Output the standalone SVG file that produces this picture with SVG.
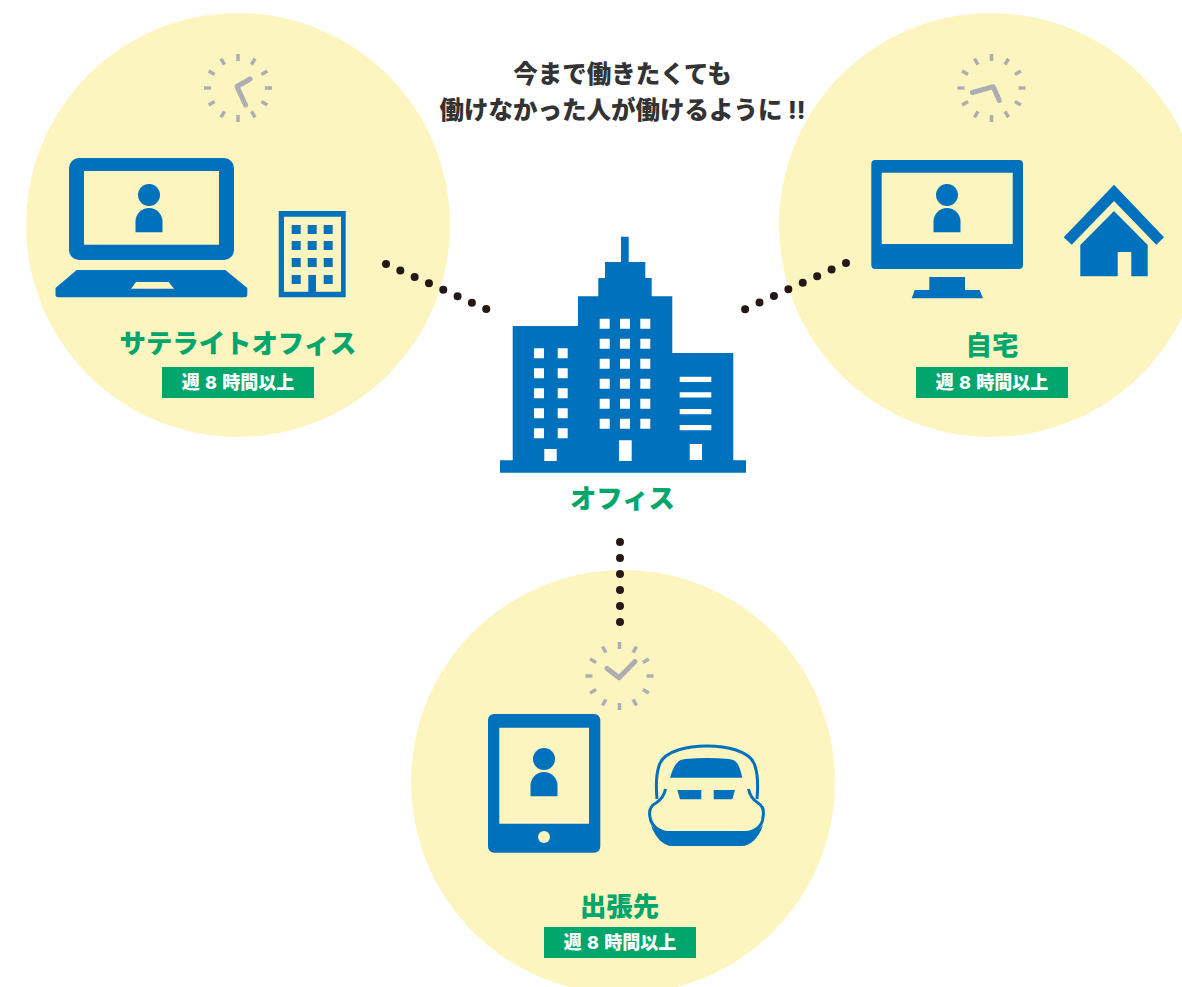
<svg xmlns="http://www.w3.org/2000/svg" width="1182" height="987" viewBox="0 0 1182 987">
<style>
.bg{fill:#fdf5bf}
.b{fill:#0071bc}
.c{fill:#fdf5bf}
.tick{stroke:#aeaeb2;stroke-width:3.500;fill:none}
.hand{stroke:#aeaeb2;stroke-width:5;fill:none;stroke-linecap:round;stroke-linejoin:round}
.dots{stroke:#231815;stroke-width:8;stroke-linecap:round;fill:none}
text{font-family:"Noto Sans CJK JP","Noto Sans",sans-serif;font-weight:900;text-anchor:middle}
.title{font-size:24.500px;fill:#333}
.label{font-size:26.400px;fill:#00a66c}
.badge{fill:#00a66c}
.bt{font-size:18px;fill:#fff;word-spacing:1.200px}
.lat{font-family:Inter,"Noto Sans",sans-serif;font-weight:800}
</style>
<defs>
<g id="ticks" class="tick">
<path d="M0-34V-27M0 34V27M34 0H27M-34 0H-27M17-29.400L13.500-23.400M-17-29.400L-13.500-23.400M17 29.400L13.500 23.400M-17 29.400L-13.500 23.400M29.400-17L23.400-13.500M-29.400-17L-23.400-13.500M29.400 17L23.400 13.500M-29.400 17L-23.400 13.500"/>
</g>
<g id="person" class="b">
<circle cx="0" cy="0" r="11"/>
<path d="M-13.500 37.300V26.500a13.500 13.500 0 0 1 27 0V37.300Z"/>
</g>
</defs>
<rect width="1182" height="987" fill="#fff"/>
<g id="satellite">
<circle class="bg" cx="238" cy="225" r="212"/>
<use href="#ticks" x="238" y="88"/>
<path class="hand" d="M250 79L237 86.500L245.500 105"/>
<rect class="b" x="69" y="158" width="165" height="102" rx="10"/>
<rect class="c" x="84" y="171" width="135" height="73.700"/>
<use href="#person" x="149" y="195"/>
<path class="b" d="M76.700 270H225.300L247.300 288V294a3 3 0 0 1-3 3.300H58.500a3 3 0 0 1-3-3.300V288Z"/>
<path class="c" d="M136 282H168.700L174 288.700H131Z"/>
<path class="b" fill-rule="evenodd" d="M278.700 211H345.700V297.300H278.700ZM284 216.700V291.700H308.300V275H316V291.700H341V216.700Z"/>
<path class="b" d="M291.700 225h9v9h-9zM307.700 225h9v9h-9zM323.700 225h9v9h-9zM291.700 241h9v9h-9zM307.700 241h9v9h-9zM323.700 241h9v9h-9zM291.700 258h9v9h-9zM307.700 258h9v9h-9zM323.700 258h9v9h-9zM291.700 275h9v9h-9zM323.700 275h9v9h-9z"/>
<text class="label" x="238" y="352.500">サテライトオフィス</text>
<rect class="badge" x="162" y="367" width="152" height="31"/>
<text class="bt" x="238" y="389">週 <tspan class="lat">8</tspan> 時間以上</text>
</g>
<g id="home">
<circle class="bg" cx="991" cy="225" r="212"/>
<use href="#ticks" x="991.500" y="88"/>
<path class="hand" d="M972.500 92.500L993.300 86.700L999.300 100.500"/>
<path class="b" fill-rule="evenodd" d="M875.300 160H1019a4 4 0 0 1 4 4V265a4 4 0 0 1-4 4H875.300a4 4 0 0 1-4-4V164a4 4 0 0 1 4-4ZM881.700 172.700V244H1012.700V172.700Z"/>
<path class="b" d="M929.300 277H965V290H979.700L983 298.300H911.700L914.700 290H929.300Z"/>
<use href="#person" x="947" y="195"/>
<path class="b" d="M1114 184.700L1164 237.300L1156.300 244.700L1114 201L1071.700 244.700L1063.700 237.300Z"/>
<path class="b" d="M1114 211L1147.700 245V276.300H1131.300V252H1117.700V276.300H1080.300V245Z"/>
<text class="label" x="992" y="355">自宅</text>
<rect class="badge" x="916" y="367" width="152" height="31"/>
<text class="bt" x="992" y="389">週 <tspan class="lat">8</tspan> 時間以上</text>
</g>
<g id="office">
<path class="b" d="M500 460.300H512.700V326H578V296.300H598.300V278H605V262H621V236.700H628.700V262H645.300V278H651.700V296.300H672.300V353H733.300V460.300H746V472.700H500Z"/>
<path fill="#fff" d="M599.700 318.700h10v10h-10zM620 318.700h10v10h-10zM640.300 318.700h10v10h-10zM599.700 338.700h10v10h-10zM620 338.700h10v10h-10zM640.300 338.700h10v10h-10zM599.700 358.700h10v10h-10zM620 358.700h10v10h-10zM640.300 358.700h10v10h-10zM599.700 378.700h10v10h-10zM620 378.700h10v10h-10zM640.300 378.700h10v10h-10zM599.700 398.700h10v10h-10zM620 398.700h10v10h-10zM640.300 398.700h10v10h-10zM599.700 418.700h10v10h-10zM620 418.700h10v10h-10zM640.300 418.700h10v10h-10z"/>
<path fill="#fff" d="M534 348.300h10v10h-10zM557.700 348.300h10v10h-10zM534 368.300h10v10h-10zM557.700 368.300h10v10h-10zM534 388.300h10v10h-10zM557.700 388.300h10v10h-10zM534 408.300h10v10h-10zM557.700 408.300h10v10h-10zM534 428.300h10v10h-10zM557.700 428.300h10v10h-10z"/>
<path fill="#fff" d="M544.300 449h12.400v12h-12.400zM619 440.300h12.700v20.700h-12.700zM689.700 444h12.300v16h-12.300zM679.700 376.700h31.600v5.300h-31.600zM679.700 392.300h31.600v5.300h-31.600zM679.700 409h31.600v5.300h-31.600zM679.700 425h31.600v5.300h-31.600z"/>
<text class="label" x="622.500" y="508">オフィス</text>
</g>
<g id="business-trip">
<circle class="bg" cx="623" cy="782" r="212"/>
<use href="#ticks" x="619.500" y="676"/>
<path class="hand" d="M607 668.500L619 677.700L635 661.500"/>
<path class="b" fill-rule="evenodd" d="M494 714H594.300a6 6 0 0 1 6 6V846.700a6 6 0 0 1-6 6H494a6 6 0 0 1-6-6V720a6 6 0 0 1 6-6ZM499.300 727.700V823.700H589V727.700Z"/>
<circle class="c" cx="544" cy="837" r="6"/>
<use href="#person" x="544" y="759"/>
<path d="M657 799C656 788 656 775 659 766C663 750 690 746 707 746C724 746 751 750 755 766C758 775 758 788 757 799" fill="none" stroke="#0071bc" stroke-width="3"/>
<path d="M665.500 789C664 796 661 800 656 803C650 806 649 812 650 817C651 825 658 832 669 832.500H745C756 832 763 825 763 817C764 812 763 806 758 803C753 800 750 796 748.500 789" fill="none" stroke="#0071bc" stroke-width="3"/>
<path class="b" d="M651 825C655 838 664 846 672 846H742C750 846 759 838 763 825C759 830 752 833 745 833H669C662 833 655 830 651 825Z"/>
<path class="b" d="M670 777.700C672 771 674 766 677 763C679 760 682 759.500 685 759C700 757.500 714 757.500 729 759C732 759.500 735 760 737 763C739 766 741 771 742.300 777.700Z"/>
<path class="b" d="M677.300 790H701.300V799.300H680ZM713.700 790H735L732.300 799.300H713.700Z"/>
<text class="label" x="619.500" y="916">出張先</text>
<rect class="badge" x="544" y="927" width="152" height="31"/>
<text class="bt" x="620" y="949">週 <tspan class="lat">8</tspan> 時間以上</text>
</g>
<g id="headline">
<text class="title" x="622.500" y="82.500">今まで働きたくても</text>
<text class="title" x="622.500" y="118.500">働けなかった人が働けるように <tspan class="lat">!!</tspan></text>
</g>
<g id="connectors">
<line class="dots" x1="386" y1="264" x2="486.400" y2="309.200" stroke-dasharray="0 15.700"/>
<line class="dots" x1="846" y1="263" x2="745" y2="309.200" stroke-dasharray="0 15.850"/>
<line class="dots" x1="620" y1="542" x2="620" y2="622.400" stroke-dasharray="0 16"/>
</g>
</svg>
